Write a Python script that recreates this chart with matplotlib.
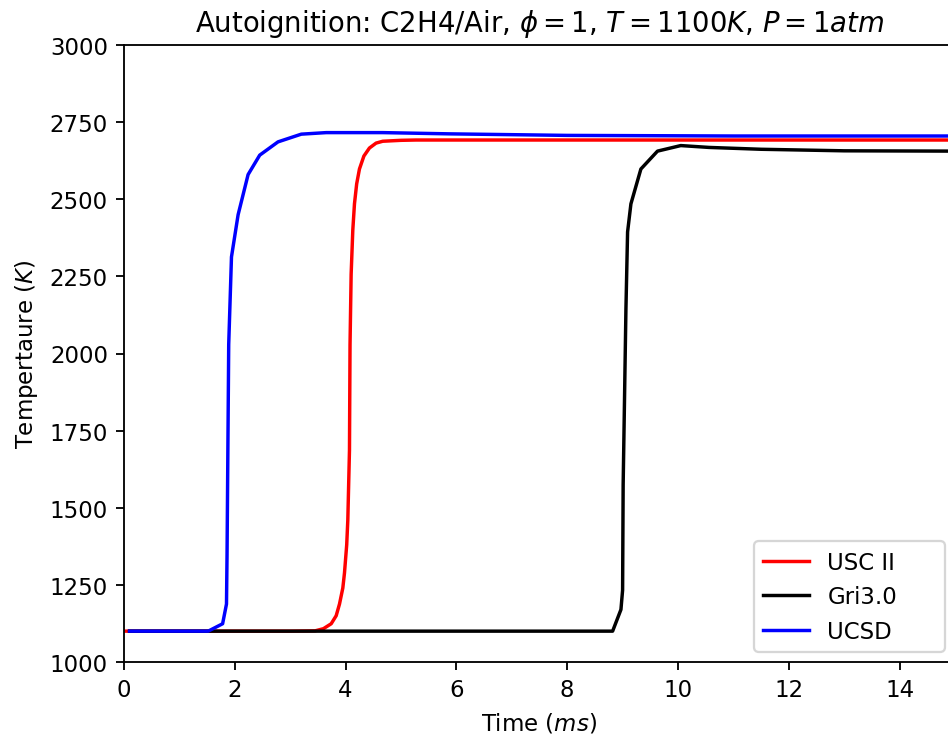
import matplotlib
matplotlib.use("Agg")
import matplotlib.pyplot as plt

# USC II mechanism
t_usc = [0.0, 1.0, 2.0, 3.0, 3.45, 3.6, 3.74, 3.83, 3.89, 3.95, 3.98, 4.02, 4.04,
         4.07, 4.08, 4.10, 4.13, 4.16, 4.20, 4.25, 4.33, 4.43, 4.55, 4.67, 5.0,
         5.27, 8.0, 12.0, 15.0]
T_usc = [1100, 1100, 1100, 1100, 1101, 1108, 1124, 1150, 1188, 1240, 1289, 1380,
         1460, 1687, 2029, 2257, 2400, 2485, 2550, 2598, 2640, 2666, 2682, 2688,
         2691, 2692, 2692, 2692, 2692]

# GRI 3.0 mechanism
t_gri = [0.1, 2.0, 4.0, 6.0, 8.0, 8.82, 8.97, 9.0, 9.01, 9.03, 9.06, 9.09,
         9.15, 9.33, 9.63, 10.05, 10.56, 11.5, 13.0, 15.0]
T_gri = [1100, 1100, 1100, 1100, 1100, 1100, 1170, 1233, 1574, 1800, 2143, 2394,
         2485, 2598, 2656, 2674, 2668, 2662, 2657, 2656]

# UCSD mechanism
t_ucsd = [0.1, 1.0, 1.52, 1.78, 1.85, 1.86, 1.89, 1.94, 2.06, 2.24, 2.45,
          2.78, 3.20, 3.65, 4.67, 5.87, 8.0, 11.0, 15.0]
T_ucsd = [1100, 1100, 1100, 1124, 1188, 1347, 2029, 2313, 2450, 2580, 2643,
          2686, 2711, 2716, 2716, 2712, 2707, 2705, 2705]

labels = ["USC II", "Gri3.0", "UCSD      "]  # trailing blanks widen the legend box

W, H, DPI = 948, 740, 165
fig = plt.figure(figsize=(W / DPI, H / DPI), dpi=DPI)
# axes runs slightly past the right edge of the picture, like the reference crop
ax = fig.add_axes([124 / W, 77 / H, 831 / W, 617 / H])

ax.plot(t_usc, T_usc, color="red", label=labels[0])
ax.plot(t_gri, T_gri, color="black", label=labels[1])
ax.plot(t_ucsd, T_ucsd, color="blue", label=labels[2])

ax.set_xlim(0, 15)
ax.set_ylim(1000, 3000)
ax.set_xticks([0, 2, 4, 6, 8, 10, 12, 14])
ax.set_yticks([1000, 1250, 1500, 1750, 2000, 2250, 2500, 2750, 3000])
ax.set_xlabel("Time ($ms$)")
ax.set_ylabel("Tempertaure ($K$)")
ax.set_title(r"Autoignition: C2H4/Air, $\phi = 1$, $T = 1100K$, $P = 1atm$")
ax.legend(loc="lower right", borderaxespad=0.45)

fig.savefig("out.png", dpi=DPI)
